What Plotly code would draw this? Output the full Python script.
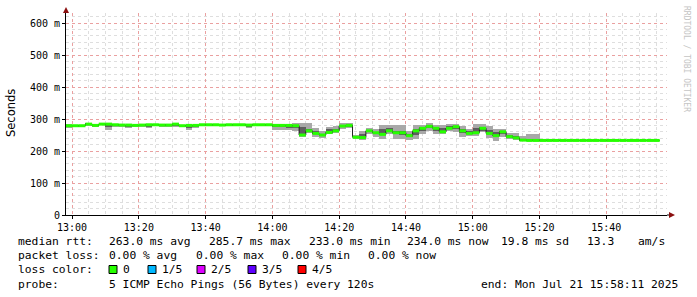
import pandas as pd
import plotly.graph_objects as go

# ---------------- data ----------------
start_time = "2025-07-21 12:58:00"
step_seconds = 120

median_ms = [
    279, 279, 279, 284, 280, 284, 284, 282, 281, 281,
    280, 281, 282, 282, 281, 281, 284, 279, 280, 280,
    282, 282, 282, 281, 282, 282, 282, 281, 282, 282,
    282, 280, 280, 280, 279, 250, 263, 255, 250, 258,
    263, 278, 280, 243, 242, 263, 257, 252, 263, 257,
    257, 248, 263, 271, 277, 271, 260, 271, 276, 263,
    255, 257, 271, 255, 248, 260, 245, 241, 234, 233,
    233, 233, 233, 233, 233, 233, 233, 233, 233, 233,
    233, 233, 233, 233, 233, 233, 233, 233, 233,
]
smoke_max = [
    283, 281, 282, 286, 283, 288, 286, 284, 283, 282,
    282, 283, 283, 284, 283, 283, 286, 282, 282, 282,
    284, 284, 284, 283, 284, 284, 284, 283, 284, 284,
    284, 283, 284, 283, 286, 286, 286, 273, 262, 276,
    278, 286, 286, 249, 261, 273, 268, 280, 280, 280,
    280, 262, 280, 280, 286, 280, 280, 283, 283, 278,
    268, 283, 283, 278, 268, 270, 257, 255, 247, 254,
    253, 238, 235, 236, 233, 233, 233, 233, 233, 233,
    233, 233, 233, 233, 233, 233, 233, 233, 233,
]
smoke_q3 = [
    281, 280, 281, 285, 282, 285, 284, 283, 282, 281,
    281, 282, 282, 283, 282, 282, 285, 280, 281, 281,
    283, 283, 283, 282, 283, 283, 283, 282, 283, 283,
    283, 281, 281, 281, 281, 274, 270, 264, 254, 269,
    269, 281, 282, 245, 252, 267, 260, 270, 272, 264,
    264, 254, 270, 274, 281, 274, 272, 277, 278, 270,
    262, 273, 276, 266, 258, 263, 249, 246, 236, 235,
    235, 234, 234, 234, 233, 233, 233, 233, 233, 233,
    233, 233, 233, 233, 233, 233, 233, 233, 233,
]
smoke_q1 = [
    277, 278, 278, 283, 279, 283, 276, 279, 279, 275,
    279, 280, 278, 281, 280, 280, 279, 278, 272, 276,
    281, 281, 281, 280, 281, 281, 281, 277, 281, 281,
    281, 274, 274, 272, 271, 253, 261, 252, 248, 261,
    261, 275, 277, 241, 243, 260, 254, 252, 259, 252,
    250, 245, 250, 262, 272, 262, 260, 268, 268, 256,
    254, 257, 264, 252, 243, 254, 243, 240, 233, 233,
    233, 233, 233, 233, 233, 233, 233, 233, 233, 233,
    233, 233, 233, 233, 233, 233, 233, 233, 233,
]
smoke_min = [
    271, 275, 276, 281, 276, 281, 266, 274, 276, 271,
    277, 278, 273, 279, 278, 278, 274, 276, 266, 271,
    279, 280, 280, 279, 280, 280, 280, 271, 280, 280,
    280, 266, 266, 266, 264, 243, 255, 243, 241, 253,
    255, 269, 272, 237, 234, 253, 245, 238, 253, 238,
    238, 234, 238, 253, 264, 253, 253, 264, 258, 245,
    248, 248, 258, 241, 232, 243, 238, 234, 231, 231,
    232, 232, 232, 233, 233, 233, 233, 233, 233, 233,
    233, 233, 233, 233, 233, 233, 233, 233, 233,
]

y_tick_vals = [0, 100, 200, 300, 400, 500, 600]
y_tick_text = ["0", "100 m", "200 m", "300 m", "400 m", "500 m", "600 m"]

loss_labels = ["0", "1/5", "2/5", "3/5", "4/5"]
loss_colors = ["#26ff00", "#00b8ff", "#dd00ff", "#5e00ff", "#ff0000"]

rtt_items = ["median rtt:", "263.0 ms avg", "285.7 ms max", "233.0 ms min",
             "234.0 ms now", "19.8 ms sd", "13.3", "am/s"]
loss_items = ["packet loss:", "0.00 % avg", "0.00 % max", "0.00 % min", "0.00 % now"]
loss_color_title = "loss color:"
probe_items = ["probe:", "5 ICMP Echo Pings (56 Bytes) every 120s"]
end_text = "end: Mon Jul 21 15:58:11 2025"
watermark = "RRDTOOL / TOBI OETIKER"

x_range = ["2025-07-21 12:58:11", "2025-07-21 15:58:11"]

# ---------------- geometry ----------------
W, H = 697, 297
L, R, T, B = 66, 30, 13, 82
PW, PH = W - L - R, H - T - B


def px(x):
    return (x - L) / PW


def py(y):
    return (H - B - y) / PH


MONO = "DejaVu Sans Mono"
SANS = "DejaVu Sans"
LEG_SIZE = 11.3

n = len(median_ms)
starts = pd.date_range(start_time, periods=n, freq=f"{step_seconds}s")
step = pd.Timedelta(seconds=step_seconds)
mids = starts + step / 2
ends = starts + step

fig = go.Figure()

fig.add_trace(go.Bar(
    x=mids, base=smoke_min,
    y=[a - b for a, b in zip(smoke_max, smoke_min)],
    width=step_seconds * 1000, marker=dict(color="#a8a8a8", line=dict(width=0)),
    hoverinfo="skip", showlegend=False))
fig.add_trace(go.Bar(
    x=mids, base=smoke_q1,
    y=[a - b for a, b in zip(smoke_q3, smoke_q1)],
    width=step_seconds * 1000, marker=dict(color="#5e5e5e", line=dict(width=0)),
    hoverinfo="skip", showlegend=False))

fig.add_trace(go.Scatter(
    x=list(starts) + [ends[-1]], y=median_ms + [median_ms[-1]],
    mode="lines", line=dict(color="#202020", width=1, shape="hv"),
    hoverinfo="skip", showlegend=False))

gx, gy = [], []
for s, e, v in zip(starts, ends, median_ms):
    gx += [s, e, None]
    gy += [v, v, None]
fig.add_trace(go.Scatter(
    x=gx, y=gy, mode="lines", line=dict(color=loss_colors[0], width=3),
    hoverinfo="skip", showlegend=False))

fig.update_layout(
    width=W, height=H, autosize=False,
    margin=dict(l=L, r=R, t=T, b=B, pad=0),
    paper_bgcolor="white", plot_bgcolor="white",
    barmode="overlay", bargap=0,
    showlegend=False,
    font=dict(family=MONO, size=10, color="black"),
)

fig.update_xaxes(
    type="date", range=x_range,
    tickformat="%H:%M", dtick=20 * 60 * 1000, tick0="2025-07-21 13:00:00",
    showgrid=True, gridcolor="#eaa0a0", griddash="dot", gridwidth=1,
    minor=dict(dtick=5 * 60 * 1000, showgrid=True, gridcolor="#dedede",
               griddash="dot", gridwidth=1),
    ticks="outside", ticklen=3, tickcolor="black", tickwidth=1,
    showline=True, linecolor="black", linewidth=1, zeroline=False,
    tickfont=dict(family=MONO, size=10, color="black"),
)
fig.update_yaxes(
    range=[0, PH / 0.32],
    tickmode="array", tickvals=y_tick_vals, ticktext=y_tick_text,
    showgrid=True, gridcolor="#eaa0a0", griddash="dot", gridwidth=1,
    minor=dict(dtick=20, showgrid=True, gridcolor="#dedede",
               griddash="dot", gridwidth=1),
    ticks="outside", ticklen=3, tickcolor="black", tickwidth=1,
    showline=True, linecolor="black", linewidth=1, zeroline=False,
    tickfont=dict(family=MONO, size=10, color="black"),
)

shapes = []
shapes.append(dict(type="line", xref="paper", yref="paper",
                   x0=px(66), x1=px(66), y0=py(13), y1=py(9),
                   line=dict(color="black", width=1)))
shapes.append(dict(type="path", xref="paper", yref="paper",
                   path=f"M {px(63)} {py(13)} L {px(69)} {py(13)} L {px(66)} {py(7)} Z",
                   fillcolor="#8b1010", line=dict(width=0)))
shapes.append(dict(type="line", xref="paper", yref="paper",
                   x0=px(667), x1=px(671), y0=py(215), y1=py(215),
                   line=dict(color="black", width=1)))
shapes.append(dict(type="path", xref="paper", yref="paper",
                   path=f"M {px(669)} {py(212)} L {px(669)} {py(218)} L {px(675)} {py(215)} Z",
                   fillcolor="#8b1010", line=dict(width=0)))

annotations = []


def text(x, y, s, size=LEG_SIZE, family=MONO, color="black", xanchor="left", angle=0):
    annotations.append(dict(
        text=s.replace(" ", "\u00a0"), xref="paper", yref="paper", x=px(x), y=py(y),
        xanchor=xanchor, yanchor="middle", showarrow=False, textangle=angle,
        font=dict(family=family, size=size, color=color)))


rtt_x = [16, 107, 207, 307, 405, 499, 585, 636]
for x, s in zip(rtt_x, rtt_items):
    text(x, 241.5, s)
loss_x = [16, 107, 194, 280, 366]
for x, s in zip(loss_x, loss_items):
    text(x, 255.7, s)
text(16, 269.8, loss_color_title)
probe_x = [16, 107]
for x, s in zip(probe_x, probe_items):
    text(x, 284, s)
text(680, 284, end_text, xanchor="right")

box_left = [109, 148, 197, 248, 298]
for bx, lab, col in zip(box_left, loss_labels, loss_colors):
    shapes.append(dict(type="rect", xref="paper", yref="paper",
                       x0=px(bx), x1=px(bx + 8), y0=py(265.5), y1=py(273.5),
                       fillcolor=col, line=dict(color="black", width=1)))
    text(bx + 12, 269.8, lab)

text(11, 113, "Seconds", size=11.5, family=SANS, xanchor="center", angle=-90)
text(686, 59, watermark, size=8, family=MONO, color="#c4c4c4", xanchor="center", angle=90)

fig.update_layout(shapes=shapes, annotations=annotations)
fig.write_html("out.html")
